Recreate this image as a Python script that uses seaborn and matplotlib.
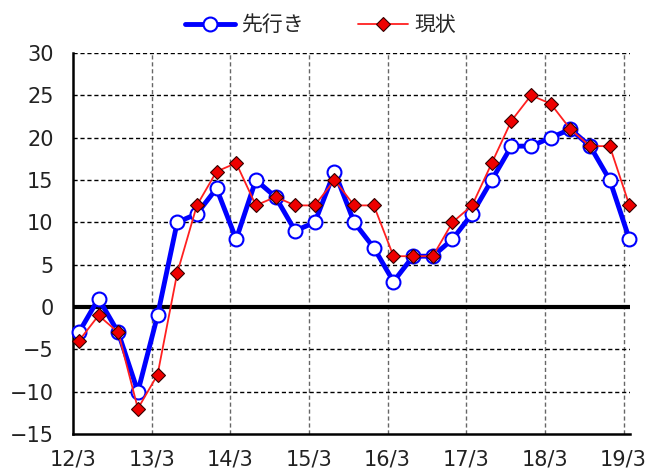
import matplotlib
matplotlib.use("Agg")
import matplotlib.pyplot as plt
import seaborn as sns
import numpy as np
import pandas as pd

quarters = [
    "12/3", "12/6", "12/9", "12/12",
    "13/3", "13/6", "13/9", "13/12",
    "14/3", "14/6", "14/9", "14/12",
    "15/3", "15/6", "15/9", "15/12",
    "16/3", "16/6", "16/9", "16/12",
    "17/3", "17/6", "17/9", "17/12",
    "18/3", "18/6", "18/9", "18/12",
    "19/3",
]
sakiyuki = [-3, 1, -3, -10, -1, 10, 11, 14, 8, 15, 13, 9, 10, 16, 10, 7,
            3, 6, 6, 8, 11, 15, 19, 19, 20, 21, 19, 15, 8]
genjo = [-4, -1, -3, -12, -8, 4, 12, 16, 17, 12, 13, 12, 12, 15, 12, 12,
         6, 6, 6, 10, 12, 17, 22, 25, 24, 21, 19, 19, 12]
tick_labels = ["12/3", "13/3", "14/3", "15/3", "16/3", "17/3", "18/3", "19/3"]
y_ticks = [-15, -10, -5, 0, 5, 10, 15, 20, 25, 30]

sns.set_style("white")
plt.rcParams["font.family"] = ["Noto Sans CJK JP", "DejaVu Sans"]

offset = 0.3
xpos = np.arange(len(quarters)) + offset
df = pd.DataFrame({"x": xpos, "先行き": sakiyuki, "現状": genjo})

fig = plt.figure(figsize=(6.5, 4.73), dpi=100)
ax = fig.add_axes([73 / 650, 39 / 473, (630 - 73) / 650, (434 - 53) / 473])

sns.lineplot(data=df, x="x", y="先行き", ax=ax, color="#0000ff", linewidth=3.5,
             marker="o", markersize=10, markerfacecolor="white",
             markeredgecolor="#0000ff", markeredgewidth=1.5, clip_on=False,
             label="先行き", zorder=3)
sns.lineplot(data=df, x="x", y="現状", ax=ax, color="#ff2020", linewidth=1.3,
             marker="D", markersize=7, markerfacecolor="#ee0000",
             markeredgecolor="#330000", markeredgewidth=0.8, clip_on=False,
             label="現状", zorder=4)

ax.set_xlim(0, 28.33)
ax.set_ylim(-15, 30)
ax.set_xticks(np.arange(0, 29, 4))
ax.set_xticklabels(tick_labels)
ax.set_yticks(y_ticks)
ax.set_xlabel("")
ax.set_ylabel("")

for v in np.arange(4, 29, 4):
    ax.axvline(v, color="#666666", linestyle=(0, (3, 2)), linewidth=1.0, zorder=1)
for v in [5, 10, 15, 20, 25, 30, -5, -10]:
    ax.axhline(v, color="black", linestyle=(0, (3, 2)), linewidth=1.0, zorder=1)
ax.axhline(0, color="black", linewidth=3, zorder=2)

for s in ["top", "right"]:
    ax.spines[s].set_visible(False)
for s in ["left", "bottom"]:
    ax.spines[s].set_color("black")
    ax.spines[s].set_linewidth(1.8)

ax.tick_params(axis="both", labelsize=15, length=0, colors="#222222")
ax.tick_params(axis="x", pad=11)
ax.tick_params(axis="y", pad=14)
for lab in ax.get_xticklabels() + ax.get_yticklabels():
    lab.set_family(["DejaVu Sans"])

leg = ax.get_legend()
if leg is not None:
    leg.remove()
handles, labels = ax.get_legend_handles_labels()
fig.legend(handles, labels, loc="upper center", bbox_to_anchor=(0.493, 1.01),
           ncol=2, frameon=False, fontsize=15, handlelength=2.4,
           columnspacing=2.6, handletextpad=0.3)

fig.savefig("out.png", dpi=100)
